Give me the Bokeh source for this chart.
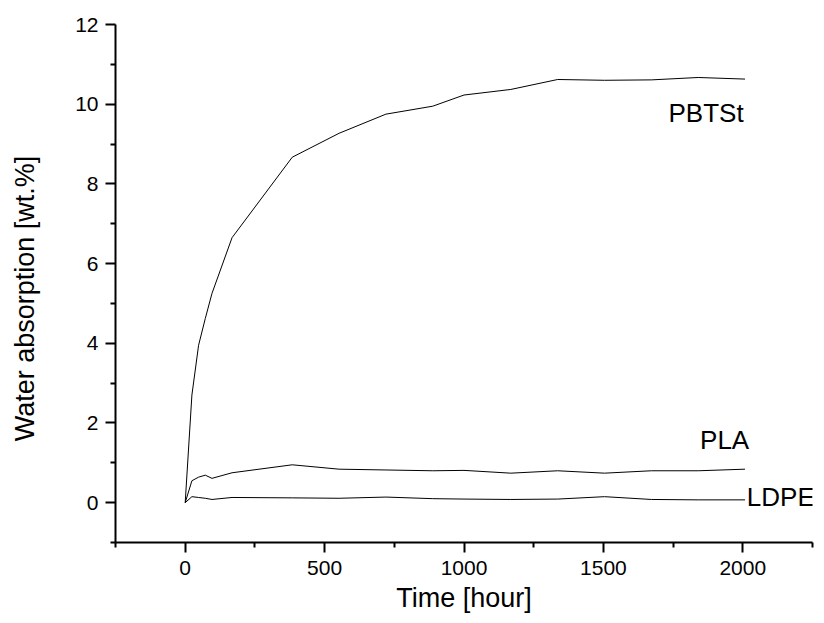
from bokeh.plotting import figure
from bokeh.models import FixedTicker, Range1d, Label
from bokeh.embed import file_html
from bokeh.resources import INLINE

# ---- data ----
time_h = [0, 24, 48, 72, 96, 168, 384, 552, 720, 888, 1000, 1168, 1336, 1504, 1672, 1840, 2008]
pbtst = [0, 2.70, 3.95, 4.62, 5.25, 6.65, 8.67, 9.27, 9.75, 9.95, 10.23, 10.37, 10.62, 10.60, 10.61, 10.67, 10.63]
pla = [0, 0.55, 0.64, 0.69, 0.61, 0.75, 0.95, 0.84, 0.82, 0.80, 0.81, 0.74, 0.80, 0.74, 0.80, 0.80, 0.84]
ldpe = [0, 0.15, 0.13, 0.11, 0.08, 0.13, 0.12, 0.11, 0.14, 0.10, 0.09, 0.08, 0.09, 0.15, 0.08, 0.07, 0.07]

x_major = [0, 500, 1000, 1500, 2000]
x_minor = [-250, 250, 750, 1250, 1750, 2250]
y_major = [0, 2, 4, 6, 8, 10, 12]
y_minor = [-1, 1, 3, 5, 7, 9, 11]

series_labels = ["PBTSt", "PLA", "LDPE"]
x_title = "Time [hour]"
y_title = "Water absorption [wt.%]"

FONT = "Liberation Sans"

p = figure(width=816, height=615, output_backend="svg", toolbar_location=None,
           x_range=Range1d(-250, 2250), y_range=Range1d(-1, 12),
           min_border_left=115, min_border_right=4, min_border_top=24,
           min_border_bottom=72)
p.outline_line_color = None
p.xgrid.visible = False
p.ygrid.visible = False
p.background_fill_color = "white"
p.border_fill_color = "white"

p.xaxis.ticker = FixedTicker(ticks=x_major, minor_ticks=x_minor)
p.yaxis.ticker = FixedTicker(ticks=y_major, minor_ticks=y_minor)

for ax in (p.xaxis[0], p.yaxis[0]):
    ax.axis_line_width = 2
    ax.axis_line_color = "black"
    ax.major_tick_line_width = 2
    ax.minor_tick_line_width = 2
    ax.major_tick_line_color = "black"
    ax.minor_tick_line_color = "black"
    ax.major_tick_in = 0
    ax.major_tick_out = 10
    ax.minor_tick_in = 0
    ax.minor_tick_out = 5
    ax.major_label_text_font = FONT
    ax.major_label_text_font_size = "21px"
    ax.major_label_text_color = "black"
    ax.axis_label_text_font = FONT
    ax.axis_label_text_font_size = "27px"
    ax.axis_label_text_font_style = "normal"
    ax.axis_label_text_color = "black"
    ax.major_label_standoff = 7

p.xaxis.axis_label = x_title
p.xaxis.major_label_standoff = 8
p.xaxis.axis_label_standoff = 5

# trailing no-break spaces move the (centred) title a little down, as in the reference
p.yaxis.axis_label = y_title + "\u00a0" * 4
p.yaxis.axis_label_standoff = 32

for ys in (pbtst, pla, ldpe):
    p.line(time_h, ys, line_color="black", line_width=1)

p.add_layout(Label(x=2003, y=9.79, text=series_labels[0], text_align="right",
                   text_baseline="middle", text_font=FONT,
                   text_font_size="26px", text_color="black"))
p.add_layout(Label(x=2023, y=1.57, text=series_labels[1], text_align="right",
                   text_baseline="middle", text_font=FONT,
                   text_font_size="26px", text_color="black"))
p.add_layout(Label(x=2258, y=0.13, text=series_labels[2], text_align="right",
                   text_baseline="middle", text_font=FONT,
                   text_font_size="26px", text_color="black"))

open("out.html", "w").write(file_html(p, INLINE))
